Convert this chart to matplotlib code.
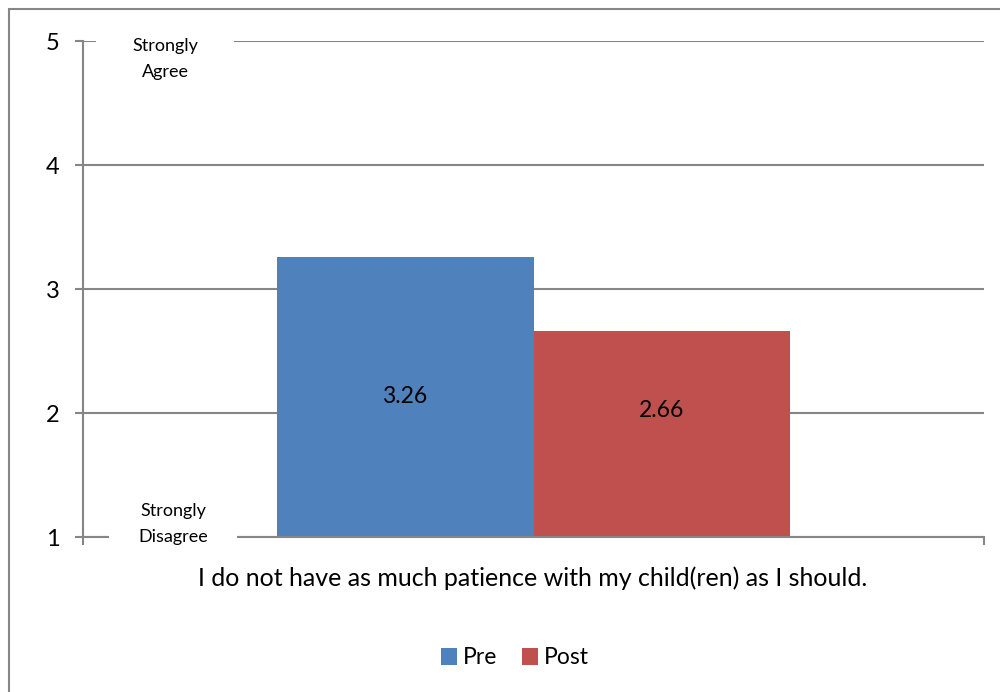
import matplotlib
matplotlib.use("Agg")
import matplotlib.pyplot as plt
from matplotlib.patches import Rectangle

# data
category = "I do not have as much patience with my child(ren) as I should."
series = ["Pre", "Post"]
values = [3.26, 2.66]
colors = ["#4f81bd", "#c0504d"]
yticks = [1, 2, 3, 4, 5]

plt.rcParams['font.family'] = ['Lato', 'DejaVu Sans']
grey = "#868686"

fig = plt.figure(figsize=(10, 6.92), dpi=100, facecolor="white")
# outer chart border (runs off the right/bottom of the image)
fig.patches.append(Rectangle((9 / 1000, -0.05), 1.2, 1 - 9 / 692 + 0.05,
                             transform=fig.transFigure, fill=False,
                             edgecolor=grey, lw=1.5, zorder=0))

ax = fig.add_axes([83 / 1000, 1 - 537 / 692, 901 / 1000, 496 / 692])
ax.set_xlim(-0.5, 0.5)
ax.set_ylim(1, 5)

bw = 0.285
offsets = [-bw / 2, bw / 2]
for name, v, c, off in zip(series, values, colors, offsets):
    ax.bar(off, v, width=bw, color=c, label=name, zorder=2)

# value labels (Excel puts them around the middle of the visible bar)
label_y = [2.13, 2.02]
for v, off, ly in zip(values, offsets, label_y):
    ax.text(off, ly, f"{v:.2f}", ha="center", va="center", fontsize=16.5, zorder=3)

ax.set_yticks(yticks)
ax.set_yticklabels([str(t) for t in yticks], fontsize=17)
ax.yaxis.grid(True, color=grey, lw=1.5, zorder=0)
ax.set_axisbelow(True)
ax.tick_params(axis="y", length=5.8, width=1.5, color=grey, pad=11)
ax.set_xticks([-0.5, 0.5])
ax.set_xticklabels(["", ""])
ax.tick_params(axis="x", length=5.8, width=1.5, color=grey)
for s in ["top", "right"]:
    ax.spines[s].set_visible(False)
for s in ["left", "bottom"]:
    ax.spines[s].set_color(grey)
    ax.spines[s].set_linewidth(1.5)

# scale anchor labels, on white boxes that break the gridlines
ax.text(-0.409, 4.855, "Strongly\nAgree", ha="center", va="center", fontsize=13,
        linespacing=1.8, zorder=5, clip_on=False,
        bbox=dict(facecolor="white", edgecolor="none", pad=26))
ax.text(-0.400, 1.105, "Strongly\nDisagree", ha="center", va="center", fontsize=13,
        linespacing=1.8, zorder=5, clip_on=False,
        bbox=dict(facecolor="white", edgecolor="none", pad=21))

fig.text(0.533, 1 - 578 / 692, category, ha="center", va="center", fontsize=18,
         zorder=6)

fig.legend(loc="center", bbox_to_anchor=(0.515, 1 - 658 / 692), ncol=2, frameon=False,
           fontsize=16.5, handlelength=0.7, handleheight=0.7, handletextpad=0.25,
           columnspacing=1.1)

fig.savefig("out.png", dpi=100, facecolor="white")
